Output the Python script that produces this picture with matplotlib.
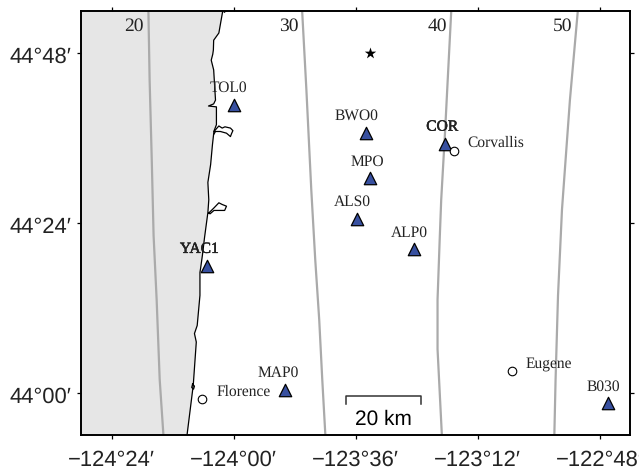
import matplotlib
matplotlib.use("Agg")
import matplotlib.pyplot as plt
import matplotlib.patheffects as pe
from matplotlib.transforms import ScaledTranslation

plt.rcParams['text.hinting'] = 'none'

# stations
sta_names = ["TOL0", "BWO0", "COR", "MPO", "ALS0", "ALP0", "YAC1", "MAP0", "B030"]
sta_lon = [-123.998, -123.566, -123.306, -123.552, -123.594, -123.408, -124.086, -123.830, -122.773]
sta_lat = [44.678, 44.612, 44.586, 44.506, 44.410, 44.339, 44.298, 44.005, 43.975]

# cities
city_names = ["Corvallis", "Florence", "Eugene"]
city_lon = [-123.277, -124.102, -123.088]
city_lat = [44.568, 43.984, 44.051]

star_lon = [-123.552]
star_lat = [44.800]

# coastline, north to south
coast_lon = [-124.035, -124.048, -124.065, -124.066, -124.068, -124.073, -124.065, -124.059,
             -124.065, -124.082, -124.056, -124.056, -124.064, -124.069, -124.075, -124.084,
             -124.081, -124.084, -124.095, -124.102, -124.108, -124.110, -124.110, -124.119,
             -124.128, -124.122, -124.132, -124.152]
coast_lat = [44.900, 44.847, 44.830, 44.807, 44.797, 44.783, 44.760, 44.689,
             44.680, 44.675, 44.673, 44.631, 44.616, 44.584, 44.537, 44.495,
             44.454, 44.424, 44.365, 44.323, 44.292, 44.283, 44.229, 44.158,
             44.139, 44.119, 44.017, 43.902]

# the two bays and the small lake
bay1_lon = [-124.064, -124.048, -124.037, -124.028, -124.010, -124.002, -124.007, -124.010,
            -124.023, -124.043, -124.059, -124.064]
bay1_lat = [44.615, 44.628, 44.623, 44.626, 44.623, 44.617, 44.609, 44.603,
            44.611, 44.615, 44.615, 44.609]
bay2_lon = [-124.081, -124.064, -124.048, -124.037, -124.023, -124.029, -124.048,
            -124.064, -124.077, -124.081]
bay2_lat = [44.423, 44.435, 44.447, 44.443, 44.439, 44.429, 44.429,
            44.429, 44.421, 44.423]
lake_lon = [-124.134, -124.128, -124.131, -124.137, -124.134]
lake_lat = [44.020, 44.015, 44.008, 44.012, 44.020]
top_lon = [-124.035, -124.026, -124.022, -124.030]
top_lat = [44.900, 44.899, 44.900, 44.896]

# depth contours, labelled in km
depth_labels = ["20", "30", "40", "50"]
depth_label_lon = [-124.325, -123.818, -123.333, -122.922]
depth_label_lat = [44.864, 44.864, 44.864, 44.864]
d20_lon = [-124.279, -124.275, -124.268, -124.262, -124.252, -124.242, -124.230]
d20_lat = [44.900, 44.736, 44.548, 44.370, 44.219, 44.031, 43.902]
d30_lon = [-123.775, -123.761, -123.745, -123.732, -123.719, -123.709, -123.699]
d30_lat = [44.900, 44.713, 44.478, 44.313, 44.172, 44.031, 43.902]
d40_lon = [-123.286, -123.296, -123.306, -123.319, -123.324, -123.331, -123.331, -123.317]
d40_lat = [44.900, 44.760, 44.619, 44.454, 44.360, 44.219, 44.102, 43.902]
d50_lon = [-122.871, -122.897, -122.923, -122.936, -122.944, -122.948]
d50_lat = [44.900, 44.689, 44.431, 44.229, 44.031, 43.902]

# scale bar
bar_lon = [-123.632, -123.632, -123.385, -123.385]
bar_lat = [43.972, 43.991, 43.991, 43.972]

x_ticks = [-124.4, -124.0, -123.6, -123.2, -122.8]
x_labels = ["\u2212124\u00b024\u2032", "\u2212124\u00b000\u2032", "\u2212123\u00b036\u2032",
            "\u2212123\u00b012\u2032", "\u2212122\u00b048\u2032"]
y_ticks = [44.0, 44.4, 44.8]
y_labels = ["44\u00b000\u2032", "44\u00b024\u2032", "44\u00b048\u2032"]

# label offsets in pixels from the marker
sta_off = [(-6, 17), (-9, 17), (-3, 17), (-3, 16), (-5, 17), (-5, 16), (-8, 17), (-7, 17), (-4, 16)]
city_off = [(13, 8), (14, 7), (14, 7)]

SERIF = "Liberation Serif"
SANS = "Liberation Sans"
PX = 0.72

fig = plt.figure(figsize=(6.39, 4.72), dpi=100)
ax = fig.add_axes([81 / 639, 1 - 435 / 472, 549 / 639, 424.5 / 472])
ax.set_xlim(-124.5, -122.7)
ax.set_ylim(43.9, 44.9)

ax.fill(coast_lon + [-124.5, -124.5], coast_lat + [43.9, 44.9], color="#e6e6e6", lw=0, zorder=1)

for lon, lat in [(d20_lon, d20_lat), (d30_lon, d30_lat), (d40_lon, d40_lat), (d50_lon, d50_lat)]:
    ax.plot(lon, lat, color="#aaaaaa", lw=1.6, zorder=2)

ax.plot(coast_lon, coast_lat, color="black", lw=0.9, zorder=3)
for lon, lat in [(bay1_lon, bay1_lat), (bay2_lon, bay2_lat), (lake_lon, lake_lat), (top_lon, top_lat)]:
    ax.plot(lon, lat, color="black", lw=0.9, zorder=3)

for name, lon, lat in zip(depth_labels, depth_label_lon, depth_label_lat):
    ax.text(lon, lat, name, family=SERIF, fontsize=14, color="#222222", ha="center", va="center", zorder=5)

ax.scatter(sta_lon, sta_lat, marker="^", s=80, c="#3850a0", edgecolors="black", linewidths=0.9, zorder=6)
ax.scatter(city_lon, city_lat, marker="o", s=38, c="white", edgecolors="black", linewidths=0.8, zorder=7)
ax.scatter(star_lon, star_lat, marker="*", s=75, c="black", linewidths=0, zorder=6)

for name, lon, lat, off in zip(sta_names, sta_lon, sta_lat, sta_off):
    t = ax.annotate(name, (lon, lat), xytext=(off[0] * PX, off[1] * PX), textcoords="offset points",
                    family=SERIF, fontsize=11.2, color="#222222", ha="center", va="center", zorder=8)
    if name in ("COR", "YAC1"):
        t.set_path_effects([pe.withStroke(linewidth=0.3, foreground="black")])

for name, lon, lat, off in zip(city_names, city_lon, city_lat, city_off):
    ax.annotate(name, (lon, lat), xytext=(off[0] * PX, off[1] * PX), textcoords="offset points",
                family=SERIF, fontsize=11.2, color="#222222", ha="left", va="center", zorder=8)

ax.plot(bar_lon, bar_lat, color="#333333", lw=1.1, zorder=5)
ax.text(sum(bar_lon) / 4, 43.936, "20 km", family=SANS, fontsize=15, color="black", ha="center", va="center")

ax.set_xticks(x_ticks)
ax.set_xticklabels(x_labels, family=SANS, fontsize=15.8, color="#222222")
ax.set_yticks(y_ticks)
ax.set_yticklabels(y_labels, family=SANS, fontsize=15.8, color="#222222")
ax.tick_params(top=True, right=True, length=3, width=0.9)
ax.tick_params(axis="x", pad=7.5)
ax.tick_params(axis="y", pad=4)
# y labels sit a touch below their ticks in the original
shift = ScaledTranslation(0, -2 / 100, fig.dpi_scale_trans)
for lab in ax.get_yticklabels():
    lab.set_transform(lab.get_transform() + shift)
for s in ax.spines.values():
    s.set_linewidth(1.4)

fig.savefig("out.png", dpi=100)
